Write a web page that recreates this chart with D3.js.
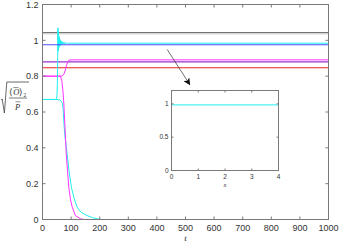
<!DOCTYPE html>
<html><head><meta charset="utf-8">
<script src="https://cdn.jsdelivr.net/npm/d3@7/dist/d3.min.js"></script>
<style>body{margin:0;background:#fff}svg{display:block}</style>
</head><body><svg id="c" width="340" height="244"></svg>
<script>
// ---- data ----
const tTicks = [0,100,200,300,400,500,600,700,800,900,1000];
const yTicks = [0,0.2,0.4,0.6,0.8,1,1.2];
const yTickLabels = ["0","0.2","0.4","0.6","0.8","1","1.2"];
const flatNames  = ["dark","light","purple","red","blue"];
const flatValues = [1.042,1.035,0.880,0.847,0.975];
const cyanUpT = [0,45,49,51,52,53,53.5,54,54.5,55,55.5,56,56.5,57,57.5,58,59,60,61,62,63,64,65,66,67,68,70,72,74,76,78,80,84,88,95,1000];
const cyanUpV = [0.67,0.67,0.675,0.70,0.76,0.88,1.00,1.07,1.02,0.94,1.05,0.95,1.03,0.96,1.02,0.965,1.01,0.97,1.005,0.972,1.0,0.975,0.996,0.977,0.993,0.979,0.991,0.98,0.989,0.981,0.988,0.982,0.986,0.984,0.984,0.984];
const cyanDownT = [0,45,60,66,70,72,74,78,82,86,93,101,110,121,135,156,175,191,205,1000];
const cyanDownV = [0.67,0.67,0.668,0.66,0.645,0.62,0.56,0.47,0.42,0.367,0.27,0.18,0.12,0.069,0.04,0.022,0.01,0.004,0,0];
const magUpT = [0,66,72,76,80,84,88,92,100,1000];
const magUpV = [0.8,0.8,0.805,0.815,0.835,0.86,0.88,0.889,0.891,0.891];
const magDownT = [0,63,68,72,75,79,83,88,92,98,104,115,133,145,1000];
const magDownV = [0.8,0.8,0.77,0.71,0.636,0.5,0.367,0.26,0.18,0.11,0.069,0.022,0.004,0,0];
const arrowFrom = [436,0.949];
const arrowTo = [515,0.753];
const insetXTicks = [0,1,2,3,4];
const insetYTicks = [0,0.5,1];
const insetYTickLabels = ["0","0.5","1"];
const insetX = [0,4];
const insetV = [0.984,0.984];

// ---- styles ----
const flatColors = {dark:"#474747", light:"#dadada", purple:"#9933cc", red:"#e8241f", blue:"#4b4bff"};
const CYAN = "#22eeee", MAG = "#ff33ff", AX = "#7a7a7a", TXT = "#333";

const svg = d3.select("#c");
const L=42.5, R=328.5, T=4.5, B=219.5;
const x = d3.scaleLinear().domain([0,1000]).range([L,R]);
const y = d3.scaleLinear().domain([0,1.2]).range([B,T]);
const line = d3.line().x(d=>x(d[0])).y(d=>y(d[1]));
const zip = (a,b)=>a.map((v,i)=>[v,b[i]]);

flatNames.forEach((n,i)=>{
  if(n==="blue") return;
  svg.append("path").attr("d",line([[0,flatValues[i]],[1000,flatValues[i]]]))
    .attr("fill","none").attr("stroke",flatColors[n]).attr("stroke-width",1.1);
});
[[cyanDownT,cyanDownV,CYAN],[magDownT,magDownV,MAG],[magUpT,magUpV,MAG],[cyanUpT,cyanUpV,CYAN]].forEach(([a,b,c])=>{
  svg.append("path").attr("d",line(zip(a,b))).attr("fill","none").attr("stroke",c).attr("stroke-width",1);
});
const bi = flatNames.indexOf("blue");
svg.append("path").attr("d",line([[0,flatValues[bi]],[1000,flatValues[bi]]]))
  .attr("fill","none").attr("stroke",flatColors.blue).attr("stroke-width",1.1);

svg.append("rect").attr("x",L).attr("y",T).attr("width",R-L).attr("height",B-T)
  .attr("fill","none").attr("stroke",AX).attr("stroke-width",1);
const tl=3;
tTicks.forEach(t=>{
  svg.append("line").attr("x1",x(t)).attr("x2",x(t)).attr("y1",B).attr("y2",B-tl).attr("stroke",AX);
  svg.append("line").attr("x1",x(t)).attr("x2",x(t)).attr("y1",T).attr("y2",T+tl).attr("stroke",AX);
  svg.append("text").attr("x",x(t)).attr("y",B+11.5).attr("text-anchor","middle")
    .attr("font-family","Liberation Sans, Arial, sans-serif").attr("font-size",9).attr("fill",TXT).text(t);
});
yTicks.forEach((v,i)=>{
  svg.append("line").attr("x1",L).attr("x2",L+tl).attr("y1",y(v)).attr("y2",y(v)).attr("stroke",AX);
  svg.append("line").attr("x1",R).attr("x2",R-tl).attr("y1",y(v)).attr("y2",y(v)).attr("stroke",AX);
  svg.append("text").attr("x",L-4).attr("y",y(v)+3.2).attr("text-anchor","end")
    .attr("font-family","Liberation Sans, Arial, sans-serif").attr("font-size",9).attr("fill",TXT).text(yTickLabels[i]);
});
svg.append("text").attr("x",(L+R)/2).attr("y",241).attr("text-anchor","middle")
  .attr("font-family","Liberation Serif, serif").attr("font-style","italic").attr("font-size",9).attr("fill",TXT).text("t");

const yl = svg.append("g").attr("fill",TXT).attr("font-family","Liberation Serif, serif").attr("font-style","italic");
yl.append("path").attr("d","M1,100 L2.2,99 L4.4,113 L6.8,82 L29,82").attr("fill","none").attr("stroke","#444").attr("stroke-width",0.8);
yl.append("text").attr("x",17.7).attr("y",95).attr("text-anchor","middle").attr("font-size",8.5)
  .html('<tspan font-style="normal">⟨</tspan>O<tspan font-style="normal">⟩</tspan><tspan font-size="5.5" dy="1.5" font-style="normal">2</tspan>');
yl.append("line").attr("x1",13.2).attr("x2",18.6).attr("y1",87.6).attr("y2",87.6).attr("stroke","#444").attr("stroke-width",0.6);
yl.append("line").attr("x1",9).attr("x2",27).attr("y1",98).attr("y2",98).attr("stroke","#444").attr("stroke-width",0.7);
yl.append("text").attr("x",17.5).attr("y",109.5).attr("text-anchor","middle").attr("font-size",8.5).text("P");
yl.append("line").attr("x1",15.5).attr("x2",20.5).attr("y1",101.8).attr("y2",101.8).attr("stroke","#444").attr("stroke-width",0.6);

const defs = svg.append("defs");
defs.append("marker").attr("id","ah").attr("viewBox","0 0 10 10").attr("refX",9).attr("refY",5)
  .attr("markerWidth",7).attr("markerHeight",7).attr("markerUnits","userSpaceOnUse").attr("orient","auto")
  .append("path").attr("d","M0,0 L10,5 L0,10 L2.5,5 z").attr("fill","#111");
svg.append("line").attr("x1",x(arrowFrom[0])).attr("y1",y(arrowFrom[1])).attr("x2",x(arrowTo[0])).attr("y2",y(arrowTo[1]))
  .attr("stroke","#333").attr("stroke-width",0.7).attr("marker-end","url(#ah)");

const iL=171.5, iR=278.5, iT=90.5, iB=170.5;
const ix = d3.scaleLinear().domain([0,4]).range([iL,iR]);
const iy = d3.scaleLinear().domain([0,1.2]).range([iB,iT]);
svg.append("rect").attr("x",iL).attr("y",iT).attr("width",iR-iL).attr("height",iB-iT).attr("fill","#fff");
svg.append("path").attr("d",d3.line().x(d=>ix(d[0])).y(d=>iy(d[1]))(zip(insetX,insetV)))
  .attr("fill","none").attr("stroke",CYAN).attr("stroke-width",1);
svg.append("rect").attr("x",iL).attr("y",iT).attr("width",iR-iL).attr("height",iB-iT).attr("fill","none").attr("stroke",AX);
const itl=2;
insetXTicks.forEach(v=>{
  svg.append("line").attr("x1",ix(v)).attr("x2",ix(v)).attr("y1",iB).attr("y2",iB-itl).attr("stroke",AX);
  svg.append("line").attr("x1",ix(v)).attr("x2",ix(v)).attr("y1",iT).attr("y2",iT+itl).attr("stroke",AX);
  svg.append("text").attr("x",ix(v)).attr("y",iB+8).attr("text-anchor","middle")
    .attr("font-family","Liberation Sans, Arial, sans-serif").attr("font-size",6.5).attr("fill",TXT).text(v);
});
insetYTicks.forEach((v,i)=>{
  svg.append("line").attr("x1",iL).attr("x2",iL+itl).attr("y1",iy(v)).attr("y2",iy(v)).attr("stroke",AX);
  svg.append("line").attr("x1",iR).attr("x2",iR-itl).attr("y1",iy(v)).attr("y2",iy(v)).attr("stroke",AX);
  svg.append("text").attr("x",iL-3).attr("y",iy(v)+2.3).attr("text-anchor","end")
    .attr("font-family","Liberation Sans, Arial, sans-serif").attr("font-size",6.5).attr("fill",TXT).text(insetYTickLabels[i]);
});
svg.append("text").attr("x",(iL+iR)/2).attr("y",iB+16).attr("text-anchor","middle")
  .attr("font-family","Liberation Serif, serif").attr("font-style","italic").attr("font-size",6.5).attr("fill",TXT).text("x");
</script></body></html>
